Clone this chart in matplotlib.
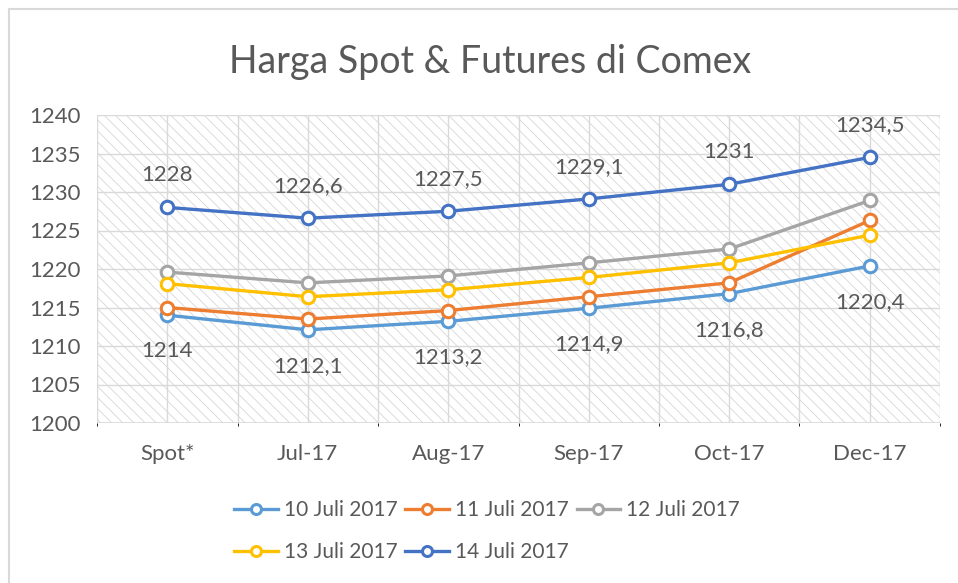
import matplotlib
matplotlib.use('Agg')
import matplotlib.pyplot as plt
from matplotlib.patches import Rectangle

plt.rcParams['font.family'] = ['Lato', 'DejaVu Sans']
plt.rcParams['hatch.linewidth'] = 0.6

categories = ['Spot*', 'Jul-17', 'Aug-17', 'Sep-17', 'Oct-17', 'Dec-17']
labels = ['10 Juli 2017', '11 Juli 2017', '12 Juli 2017', '13 Juli 2017', '14 Juli 2017']
colors = ['#5B9BD5', '#ED7D31', '#A5A5A5', '#FFC000', '#4472C4']

juli10 = [1214, 1212.1, 1213.2, 1214.9, 1216.8, 1220.4]
juli11 = [1215.0, 1213.5, 1214.6, 1216.4, 1218.2, 1226.3]
juli12 = [1219.6, 1218.2, 1219.1, 1220.8, 1222.6, 1228.9]
juli13 = [1218.1, 1216.4, 1217.3, 1218.9, 1220.8, 1224.4]
juli14 = [1228, 1226.6, 1227.5, 1229.1, 1231, 1234.5]
series = [juli10, juli11, juli12, juli13, juli14]

text_col = '#595959'

fig = plt.figure(figsize=(9.58, 5.83), dpi=100)
# outer chart border
fig.patches.append(Rectangle((9 / 958, -0.1), 1.2, 1 - 9 / 583 + 0.1,
                             transform=fig.transFigure, fill=False,
                             edgecolor='#d9d9d9', lw=1.5))

ax = fig.add_axes([97 / 958, 1 - 423 / 583, (940 - 97) / 958, (423 - 115) / 583])
ax.set_facecolor('white')
ax.add_patch(Rectangle((0, 0), 1, 1, transform=ax.transAxes, facecolor='white',
                       edgecolor='#d6d6d6', hatch='\\' * 3, lw=0, zorder=0))

x = list(range(len(categories)))
handles = []
for vals, lab, col in zip(series, labels, colors):
    h, = ax.plot(x, vals, color=col, lw=2.4, marker='o', ms=9, mfc='white',
                 mec=col, mew=2.2, label=lab, zorder=3)
    handles.append(h)

for xi, v in zip(x, juli14):
    ax.annotate(('%g' % v).replace('.', ','), (xi, v), xytext=(0, 23),
                textcoords='offset points', ha='center', va='center',
                fontsize=16, color=text_col)
for xi, v in zip(x, juli10):
    ax.annotate(('%g' % v).replace('.', ','), (xi, v), xytext=(0, -26),
                textcoords='offset points', ha='center', va='center',
                fontsize=16, color=text_col)

ax.set_xlim(-0.5, 5.5)
ax.set_ylim(1200, 1240)
ax.set_yticks(range(1200, 1241, 5))
ax.set_xticks(x)
ax.set_xticklabels(categories)
ax.set_xticks([i + 0.5 for i in range(-1, 6)], minor=True)
ax.tick_params(axis='both', length=0, labelsize=16, colors=text_col)
ax.tick_params(axis='x', pad=15)
ax.tick_params(axis='y', pad=12)
ax.grid(True, which='both', color='#d9d9d9', lw=1, zorder=1)
ax.set_axisbelow(True)
for s in ax.spines.values():
    s.set_visible(False)
ax.axhline(1200, color='#d9d9d9', lw=1.2, zorder=2)

fig.text(490 / 958, 1 - 62 / 583, 'Harga Spot & Futures di Comex', ha='center',
         va='center', fontsize=27, color=text_col)

# reorder so legend fills row by row
order = [0, 3, 1, 4, 2]
fig.legend([handles[i] for i in order], [labels[i] for i in order],
           loc='upper left', bbox_to_anchor=(224 / 958, 1 - 490 / 583), ncol=3,
           frameon=False, fontsize=15, labelcolor=text_col, handlelength=2.1,
           handletextpad=0.3, columnspacing=0.35, labelspacing=1.05,
           markerscale=0.8, borderpad=0)

fig.savefig('out.png', dpi=100)
